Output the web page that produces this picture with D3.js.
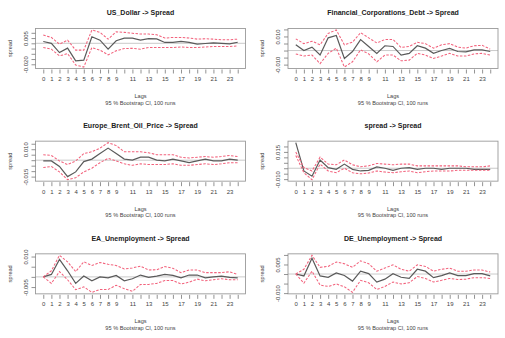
<!DOCTYPE html>
<html>
<head>
<meta charset="utf-8">
<script src="https://cdn.jsdelivr.net/npm/d3@7"></script>
<style>
body { margin: 0; background: #fff; }
svg text { font-family: "Liberation Sans", Arial, sans-serif; }
</style>
</head>
<body>
<svg></svg>
<script>
// lags 0..24, labels R managed to fit
const lags = d3.range(0, 25)
const xTickLabels = [0, 1, 2, 3, 4, 5, 6, 7, 8, 9, 11, 13, 15, 17, 19, 21, 23]

const usdIrf = [0.0017, 0.0000, -0.0088, -0.0046, -0.0168, -0.0160, 0.0062, 0.0030, -0.0056, 0.0024, 0.0050, 0.0050, 0.0030, 0.0045, 0.0042, 0.0008, 0.0008, 0.0018, 0.0008, -0.0008, -0.0002, 0.0004, 0.0000, -0.0005, 0.0010]
const usdUpper = [0.0079, 0.0056, -0.0008, 0.0030, -0.0065, -0.0065, 0.0127, 0.0104, 0.0040, 0.0110, 0.0104, 0.0096, 0.0088, 0.0088, 0.0082, 0.0050, 0.0056, 0.0056, 0.0050, 0.0040, 0.0043, 0.0040, 0.0034, 0.0034, 0.0040]
const usdLower = [-0.0040, -0.0056, -0.0120, -0.0098, -0.0207, -0.0226, -0.0040, -0.0065, -0.0110, -0.0072, -0.0050, -0.0048, -0.0056, -0.0040, -0.0040, -0.0040, -0.0040, -0.0035, -0.0040, -0.0040, -0.0035, -0.0030, -0.0030, -0.0030, -0.0025]

const fcdIrf = [0.0041, 0.0000, 0.0024, -0.0032, 0.0090, 0.0107, -0.0056, -0.0007, 0.0078, 0.0029, -0.0020, 0.0034, 0.0029, -0.0032, -0.0020, 0.0034, 0.0017, -0.0020, 0.0000, 0.0015, -0.0007, -0.0010, 0.0005, 0.0005, -0.0007]
const fcdUpper = [0.0083, 0.0049, 0.0066, 0.0041, 0.0122, 0.0146, 0.0041, 0.0059, 0.0127, 0.0090, 0.0054, 0.0078, 0.0078, 0.0022, 0.0029, 0.0059, 0.0049, 0.0017, 0.0041, 0.0049, 0.0024, 0.0017, 0.0034, 0.0037, 0.0010]
const fcdLower = [-0.0024, -0.0039, -0.0032, -0.0093, -0.0020, 0.0017, -0.0117, -0.0080, 0.0005, -0.0024, -0.0080, -0.0032, -0.0032, -0.0073, -0.0068, -0.0020, -0.0032, -0.0056, -0.0039, -0.0020, -0.0039, -0.0039, -0.0024, -0.0020, -0.0032]

const oilIrf = [-0.0007, -0.0007, -0.0057, -0.0150, -0.0107, -0.0013, 0.0010, 0.0060, 0.0110, 0.0060, 0.0010, 0.0000, 0.0027, 0.0027, 0.0000, -0.0007, 0.0010, -0.0007, -0.0023, -0.0007, 0.0010, -0.0007, -0.0007, 0.0010, 0.0000]
const oilUpper = [0.0050, 0.0043, -0.0007, -0.0040, -0.0007, 0.0060, 0.0077, 0.0110, 0.0160, 0.0133, 0.0077, 0.0077, 0.0077, 0.0067, 0.0050, 0.0050, 0.0050, 0.0027, 0.0020, 0.0027, 0.0033, 0.0027, 0.0033, 0.0043, 0.0033]
const oilLower = [-0.0067, -0.0057, -0.0107, -0.0178, -0.0160, -0.0107, -0.0073, -0.0023, 0.0017, -0.0007, -0.0033, -0.0047, -0.0033, -0.0040, -0.0040, -0.0040, -0.0033, -0.0047, -0.0047, -0.0040, -0.0033, -0.0040, -0.0033, -0.0023, -0.0023]

const sprIrf = [0.0235, -0.0025, -0.0073, 0.0076, 0.0006, -0.0010, 0.0038, -0.0010, -0.0025, -0.0019, 0.0013, 0.0000, -0.0019, 0.0000, 0.0006, -0.0010, 0.0000, 0.0000, -0.0010, 0.0000, 0.0000, 0.0000, -0.0010, -0.0010, -0.0010]
const sprUpper = [0.0149, 0.0006, -0.0025, 0.0102, 0.0038, 0.0032, 0.0076, 0.0032, 0.0013, 0.0022, 0.0044, 0.0038, 0.0032, 0.0038, 0.0038, 0.0022, 0.0022, 0.0022, 0.0022, 0.0022, 0.0022, 0.0013, 0.0013, 0.0013, 0.0022]
const sprLower = [0.0117, -0.0041, -0.0105, 0.0038, -0.0025, -0.0041, 0.0000, -0.0041, -0.0051, -0.0044, -0.0025, -0.0035, -0.0041, -0.0032, -0.0025, -0.0041, -0.0032, -0.0025, -0.0025, -0.0025, -0.0019, -0.0019, -0.0019, -0.0019, -0.0019]

const eaIrf = [0.0000, 0.0012, 0.0086, 0.0030, -0.0032, 0.0004, -0.0019, 0.0000, -0.0005, 0.0007, -0.0019, -0.0009, 0.0009, -0.0002, 0.0004, 0.0012, 0.0007, -0.0005, 0.0009, 0.0009, -0.0005, 0.0000, 0.0004, -0.0002, -0.0005]
const eaUpper = [0.0000, 0.0030, 0.0106, 0.0074, 0.0026, 0.0074, 0.0056, 0.0071, 0.0062, 0.0056, 0.0039, 0.0044, 0.0053, 0.0034, 0.0035, 0.0051, 0.0042, 0.0021, 0.0034, 0.0034, 0.0021, 0.0021, 0.0021, 0.0025, 0.0012]
const eaLower = [0.0000, -0.0032, 0.0026, -0.0014, -0.0063, -0.0049, -0.0076, -0.0062, -0.0062, -0.0041, -0.0058, -0.0071, -0.0037, -0.0037, -0.0032, -0.0018, -0.0018, -0.0035, -0.0026, -0.0011, -0.0019, -0.0014, -0.0009, -0.0014, -0.0014]

const deIrf = [0.0000, -0.0010, 0.0083, -0.0010, -0.0017, 0.0006, -0.0008, -0.0037, 0.0015, 0.0002, -0.0042, -0.0027, 0.0002, -0.0017, -0.0023, 0.0025, 0.0015, -0.0019, -0.0008, 0.0006, -0.0008, -0.0008, 0.0002, 0.0002, -0.0010]
const deUpper = [0.0000, 0.0025, 0.0098, 0.0035, 0.0040, 0.0063, 0.0054, 0.0035, 0.0069, 0.0054, 0.0015, 0.0031, 0.0048, 0.0025, 0.0015, 0.0048, 0.0040, 0.0015, 0.0025, 0.0031, 0.0015, 0.0015, 0.0021, 0.0021, 0.0010]
const deLower = [0.0000, -0.0048, 0.0015, -0.0058, -0.0065, -0.0052, -0.0067, -0.0096, -0.0033, -0.0046, -0.0081, -0.0065, -0.0042, -0.0052, -0.0046, -0.0013, -0.0023, -0.0042, -0.0033, -0.0023, -0.0029, -0.0027, -0.0019, -0.0019, -0.0023]

const titles = ["US_Dollar -> Spread", "Financial_Corporations_Debt -> Spread", "Europe_Brent_Oil_Price -> Spread", "spread -> Spread", "EA_Unemployment -> Spread", "DE_Unemployment -> Spread"]
const yTicks = [
    [-0.020, -0.015, -0.010, -0.005, 0, 0.005, 0.010],
    [-0.010, -0.005, 0, 0.005, 0.010, 0.015],
    [-0.015, -0.010, -0.005, 0, 0.005, 0.010, 0.015],
    [-0.010, -0.005, 0, 0.005, 0.010, 0.015, 0.020],
    [-0.005, 0, 0.005, 0.010],
    [-0.010, -0.005, 0, 0.005, 0.010]
]
const yLabels = [[-0.020, 0.005], [-0.010, 0.010], [-0.015, 0.010], [-0.010, 0.015], [-0.005, 0.010], [-0.010, 0.005]]

const panels = [
    {irf: usdIrf, upper: usdUpper, lower: usdLower},
    {irf: fcdIrf, upper: fcdUpper, lower: fcdLower},
    {irf: oilIrf, upper: oilUpper, lower: oilLower},
    {irf: sprIrf, upper: sprUpper, lower: sprLower},
    {irf: eaIrf, upper: eaUpper, lower: eaLower},
    {irf: deIrf, upper: deUpper, lower: deLower}
]

const svg = d3.select("svg")

svg
    .attr("width", 505)
    .attr("height", 338)

const cellW = 252.5
const cellH = 338 / 3
const plotL = 35.5, plotR = 245.5, plotT = 28.5, plotB = 68.5

panels.forEach((p, i) => {
    const g = svg.append("g")
        .attr("transform", `translate(${(i % 2) * cellW},${Math.floor(i / 2) * cellH})`)

    // R style: 4% padding on both axes
    const x = d3.scaleLinear()
        .domain([-0.96, 24.96])
        .range([plotL, plotR])

    const lo = d3.min(p.lower.concat(p.irf))
    const hi = d3.max(p.upper.concat(p.irf))
    const pad = (hi - lo) * 0.04
    const y = d3.scaleLinear()
        .domain([lo - pad, hi + pad])
        .range([plotB, plotT])

    // zero line
    g.append("line")
        .attr("x1", plotL).attr("x2", plotR)
        .attr("y1", y(0)).attr("y2", y(0))
        .attr("stroke", "#c4c4c4")
        .attr("stroke-width", 0.9)

    const line = d3.line()
        .x((d, k) => x(lags[k]))
        .y(d => y(d))

    g.append("path")
        .attr("d", line(p.irf))
        .attr("fill", "none")
        .attr("stroke", "#5a5a5a")
        .attr("stroke-width", 1.2)

    ;[p.upper, p.lower].forEach(band => {
        g.append("path")
            .attr("d", line(band))
            .attr("fill", "none")
            .attr("stroke", "#f2627c")
            .attr("stroke-width", 1.05)
            .attr("stroke-dasharray", "2.5,1.5")
    })

    g.append("rect")
        .attr("x", plotL).attr("y", plotT)
        .attr("width", plotR - plotL).attr("height", plotB - plotT)
        .attr("fill", "none")
        .attr("stroke", "#9a9a9a")
        .attr("stroke-width", 0.9)

    const xAxis = g.append("g")
        .attr("transform", `translate(0,${plotB + 1})`)
        .call(d3.axisBottom(x)
            .tickValues(lags)
            .tickSize(4)
            .tickFormat(d => xTickLabels.includes(d) ? d : ""))
    xAxis.select(".domain").remove()
    xAxis.selectAll("line").attr("stroke", "#777").attr("stroke-width", 0.8)
    xAxis.selectAll("text")
        .attr("y", 11.5).attr("dy", 0)
        .attr("fill", "#444")
        .style("font-size", "6px")

    const yAxis = g.append("g")
        .attr("transform", `translate(${plotL},0)`)
        .call(d3.axisLeft(y)
            .tickValues(yTicks[i])
            .tickSize(4)
            .tickFormat(d => yLabels[i].includes(d) ? d.toFixed(3) : ""))
    yAxis.select(".domain").remove()
    yAxis.selectAll("line").attr("stroke", "#777").attr("stroke-width", 0.8)
    yAxis.selectAll("text")
        .attr("transform", "rotate(-90)")
        .attr("x", 0).attr("y", -8).attr("dy", 0)
        .attr("text-anchor", "middle")
        .attr("fill", "#444")
        .style("font-size", "6px")

    g.append("text")
        .attr("x", (plotL + plotR) / 2).attr("y", 15.2)
        .attr("text-anchor", "middle")
        .attr("font-weight", "bold")
        .attr("fill", "#222")
        .style("font-size", "7px")
        .text(titles[i])

    g.append("text")
        .attr("transform", `translate(11.5,${(plotT + plotB) / 2}) rotate(-90)`)
        .attr("text-anchor", "middle")
        .attr("fill", "#444")
        .style("font-size", "5.6px")
        .text("spread")

    g.append("text")
        .attr("x", (plotL + plotR) / 2).attr("y", 98)
        .attr("text-anchor", "middle")
        .attr("fill", "#444")
        .style("font-size", "5.6px")
        .text("Lags")

    g.append("text")
        .attr("x", (plotL + plotR) / 2).attr("y", 104.5)
        .attr("text-anchor", "middle")
        .attr("fill", "#444")
        .style("font-size", "5.6px")
        .text("95 % Bootstrap CI, 100 runs")
})
</script>
</body>
</html>
